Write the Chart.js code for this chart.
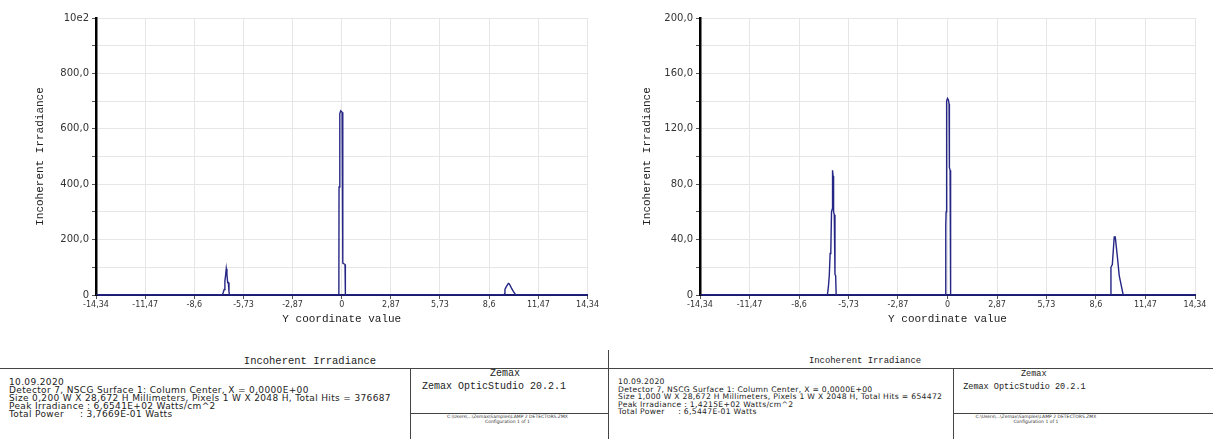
<!DOCTYPE html>
<html>
<head>
<meta charset="utf-8">
<script src="https://cdn.jsdelivr.net/npm/chart.js@4/dist/chart.umd.min.js"></script>
<style>
  body { margin: 0; background: #fff; width: 1213px; height: 439px; overflow: hidden; position: relative; }
  .wrap { position: absolute; top: 0; height: 330px; }
  .hl, .vl { position: absolute; background: #444; }
  .hl { height: 1px; }
  .vl { width: 1px; }
  .txt { position: absolute; white-space: pre; color: #222; font-family: "Liberation Mono", monospace; }
  .info { font-family: "DejaVu Sans", sans-serif; }
  .tiny { font: 4.5px "DejaVu Sans", sans-serif; text-align: center; line-height: 5px; color: #333; }
</style>
</head>
<body>
<div class="wrap" style="left:0;width:600px"><canvas id="chartLeft"></canvas></div>
<div class="wrap" style="left:600px;width:613px"><canvas id="chartRight"></canvas></div>
<div id="footer"></div>
<script>
// ===== Irradiancia incoherente - dos detectores =====

const xTickValues = [-14.34, -11.47, -8.6, -5.73, -2.87, 0, 2.87, 5.73, 8.6, 11.47, 14.34];
const xTickLabels = ['-14,34', '-11,47', '-8,6', '-5,73', '-2,87', '0', '2,87', '5,73', '8,6', '11,47', '14,34'];

const leftYTicks = [0, 200, 400, 600, 800, 1000];
const leftYLabels = ['0', '200,0', '400,0', '600,0', '800,0', '10e2'];
const rightYTicks = [0, 40, 80, 120, 160, 200];
const rightYLabels = ['0', '40,0', '80,0', '120,0', '160,0', '200,0'];

// detector 0,200 W
const leftX = [-14.34, -6.98, -6.92, -6.86, -6.82, -6.78, -6.74, -6.70, -6.66, -6.62, -6.58, -6.55,
    -0.20, -0.17, -0.16, -0.12, -0.11, -0.06, 0.02, 0.05, 0.07, 0.19, 0.21,
    9.45, 9.50, 9.52, 9.60, 9.72, 9.78, 9.90, 10.02, 10.15, 14.34];
const leftY = [0, 0, 8, 20, 50, 70, 95, 75, 45, 45, 10, 0,
    0, 20, 390, 400, 655, 665, 660, 640, 115, 110, 0,
    0, 5, 20, 30, 42, 40, 25, 12, 0, 0];

// detector 1,000 W
const rightX = [-14.34, -6.96, -6.90, -6.85, -6.80, -6.76, -6.72, -6.68, -6.66, -6.63, -6.60, -6.56, -6.52, -6.48, -6.45,
    -0.12, -0.10, -0.08, -0.05, 0.00, 0.05, 0.09, 0.11, 0.15, 0.18,
    9.45, 9.47, 9.55, 9.66, 9.72, 9.84, 9.95, 10.18, 14.34];
const rightY = [0, 0, 6, 14, 30, 32, 60, 62, 90, 86, 60, 58, 15, 14, 0,
    0, 50, 60, 140, 142, 141, 138, 92, 90, 0,
    0, 20, 22, 42, 42, 28, 14, 0, 0];

const footerTitle = 'Incoherent Irradiance';
const leftInfo = [
    '10.09.2020',
    'Detector 7, NSCG Surface 1: Column Center, X = 0,0000E+00',
    'Size 0,200 W X 28,672 H Millimeters, Pixels 1 W X 2048 H, Total Hits = 376687',
    'Peak Irradiance : 6,6541E+02 Watts/cm^2',
    'Total Power     : 3,7669E-01 Watts'
];
const rightInfo = [
    '10.09.2020',
    'Detector 7, NSCG Surface 1: Column Center, X = 0,0000E+00',
    'Size 1,000 W X 28,672 H Millimeters, Pixels 1 W X 2048 H, Total Hits = 654472',
    'Peak Irradiance : 1,4215E+02 Watts/cm^2',
    'Total Power     : 6,5447E-01 Watts'
];
const zemaxLines = ['Zemax', 'Zemax OpticStudio 20.2.1'];
const configLines = ['C:\\Users\\...\\Zemax\\Samples\\LAMP 2 DETECTORS.ZMX', 'Configuration 1 of 1'];

function crearGrafica(id, xs, ys, yMax, yStep, yTicks, yLabels, axisWidth, padRight, titlePad) {
    const puntos = xs.map((x, i) => ({ x: x, y: ys[i] }));
    return new Chart(document.getElementById(id), {
        type: 'line',
        data: {
            datasets: [{
                data: puntos,
                borderColor: '#262686',
                borderWidth: 1.4,
                pointRadius: 0,
                tension: 0,
                fill: false
            }]
        },
        options: {
            responsive: true,
            maintainAspectRatio: false,
            animation: false,
            events: [],
            layout: { padding: { top: 18, right: padRight, left: 0, bottom: 0 } },
            plugins: { legend: { display: false }, tooltip: { enabled: false } },
            scales: {
                x: {
                    type: 'linear',
                    min: -14.34,
                    max: 14.34,
                    afterBuildTicks: s => { s.ticks = xTickValues.map(v => ({ value: v })); },
                    afterFit: s => { s.height = 35; },
                    ticks: {
                        autoSkip: false,
                        maxRotation: 0,
                        padding: 1,
                        color: '#333',
                        font: { family: 'DejaVu Sans', size: 8 },
                        callback: (v, i) => xTickLabels[i]
                    },
                    grid: { color: '#e6e6e6', tickLength: 4, tickColor: '#555' },
                    border: { color: '#1a1a6e', width: 2 },
                    title: {
                        display: true,
                        text: 'Y coordinate value',
                        color: '#222',
                        font: { family: 'Liberation Mono', size: 11 },
                        padding: { top: 0, bottom: 4 }
                    }
                },
                y: {
                    min: 0,
                    max: yMax,
                    ticks: {
                        stepSize: yStep,
                        padding: 3,
                        color: '#333',
                        font: { family: 'DejaVu Sans', size: 10 },
                        callback: v => {
                            const i = yTicks.indexOf(v);
                            return i >= 0 ? yLabels[i] : '';
                        }
                    },
                    afterFit: s => { s.width = axisWidth; },
                    grid: { color: '#e6e6e6', tickLength: 4, tickColor: '#555' },
                    border: { color: '#000', width: 2.5 },
                    title: {
                        display: true,
                        text: 'Incoherent Irradiance',
                        color: '#222',
                        font: { family: 'Liberation Mono', size: 11 },
                        padding: { top: titlePad, bottom: 0 }
                    }
                }
            }
        }
    });
}

crearGrafica('chartLeft', leftX, leftY, 1000, 100, leftYTicks, leftYLabels, 96, 10, 33);
crearGrafica('chartRight', rightX, rightY, 200, 20, rightYTicks, rightYLabels, 100, 18, 40);

// Pie de página estilo Zemax (el panel derecho viene algo más pequeño)
function pieDePagina(x0, x1, xBox, titleCenter, info, k, lineH) {
    const f = document.getElementById('footer');
    const add = (cls, style, text) => {
        const d = document.createElement('div');
        d.className = cls;
        d.setAttribute('style', style);
        if (text !== undefined) d.textContent = text;
        f.appendChild(d);
    };
    add('hl', `left:${x0}px;top:368px;width:${x1 - x0}px`);
    add('vl', `left:${xBox}px;top:368px;height:71px`);
    add('hl', `left:${xBox}px;top:413px;width:${x1 - xBox}px`);
    add('txt', `left:${titleCenter - 150}px;width:300px;top:${361 - 6 * k}px;text-align:center;font-size:${10.5 * k}px`, footerTitle);
    add('txt info', `left:${x0 + 9}px;top:378px;font-size:${9 * k}px;line-height:${lineH}px;letter-spacing:${0.35 * k}px`, info.join('\n'));
    add('txt', `left:${xBox}px;width:${190 * k}px;top:${374 - 6 * k}px;text-align:center;font-size:${10 * k}px`, zemaxLines[0]);
    add('txt', `left:${xBox + 12 * k}px;top:${387 - 6 * k}px;font-size:${10 * k}px`, zemaxLines[1]);
    add('txt tiny', `left:${xBox}px;width:${195 * k}px;top:414px`, configLines.join('\n'));
}

pieDePagina(0, 608, 410, 310, leftInfo, 1, 8);
pieDePagina(609, 1213, 953, 865, rightInfo, 0.85, 7.6);
document.getElementById('footer').insertAdjacentHTML('beforeend',
    '<div class="vl" style="left:608px;top:350px;height:89px"></div>');
</script>
</body>
</html>
